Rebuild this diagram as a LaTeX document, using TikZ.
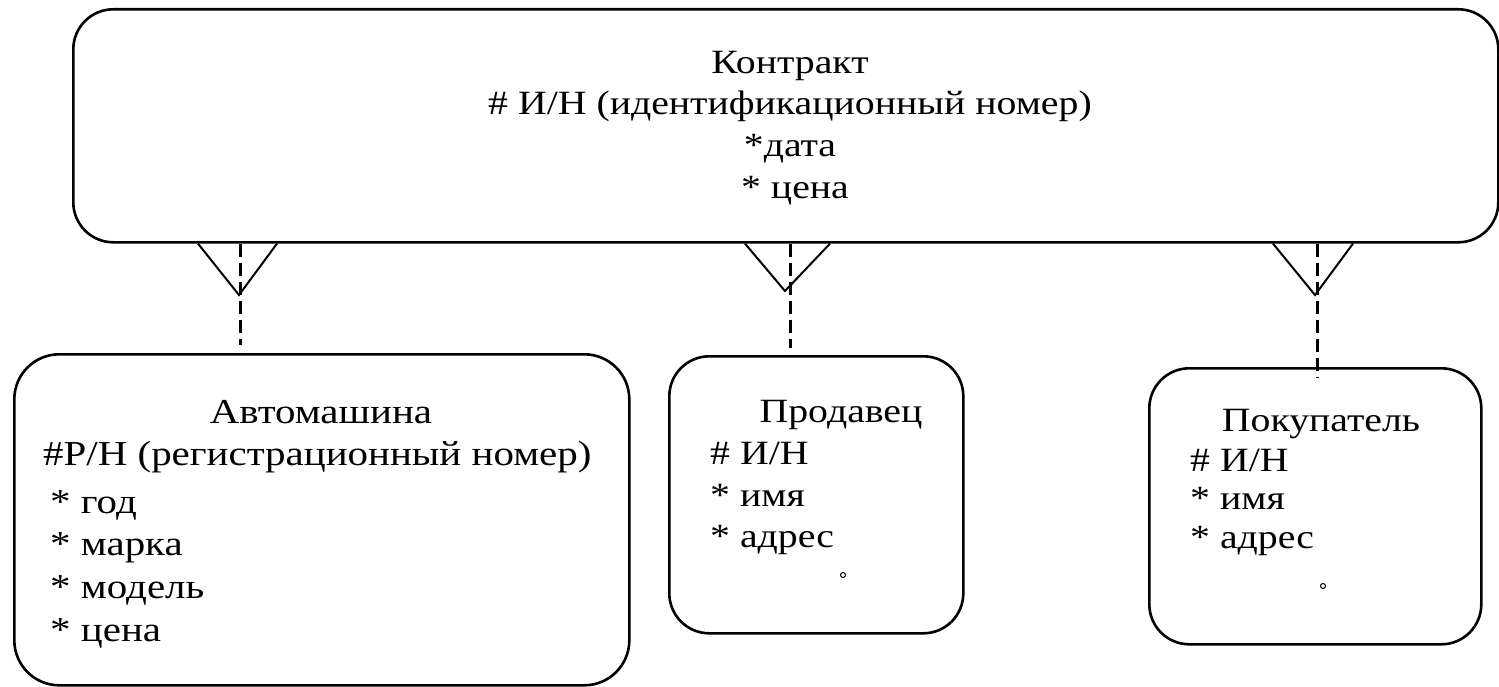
\documentclass[tikz,border=0pt]{standalone}
\usepackage{fontspec}
\setmainfont{Liberation Serif}[FakeStretch=1.17]
\begin{document}
\begin{tikzpicture}[x=1pt,y=-1pt]
\tikzset{
  ent/.style={draw, line width=2.6pt, rounded corners=#1, inner sep=0pt, anchor=north west},
  txt/.style={inner sep=0pt, font=\fontsize{34}{40}\selectfont},
  bigtxt/.style={inner sep=0pt, font=\fontsize{35}{42}\selectfont},
  foot/.style={line width=2pt},
  rel/.style={line width=3pt, dash pattern=on 13pt off 6pt},
  dot/.style={draw, circle, line width=1pt, inner sep=0pt, minimum size=5pt}
}
\useasboundingbox (0,0) rectangle (1499,687);
% entity boxes
\node[ent=40pt, minimum width=1425pt, minimum height=233pt] (contract) at (72,8) {};
\node[ent=45pt, minimum width=615pt, minimum height=331pt] (car) at (13,353) {};
\node[ent=40pt, minimum width=294pt, minimum height=277pt] (seller) at (668,355) {};
\node[ent=40pt, minimum width=332pt, minimum height=276pt] (buyer) at (1148,367) {};
% contract text
\node[txt, anchor=base] (c1) at (790,74) {Контракт};
\node[txt, anchor=base] (c2) at (790,115) {\# И/Н (идентификационный номер)};
\node[txt, anchor=base] (c3) at (790,157) {*дата};
\node[txt, anchor=base] (c4) at (795,199) {* цена};
% car text
\node[bigtxt, anchor=base] (a1) at (321,423) {Автомашина};
\node[bigtxt, anchor=base west] (a2) at (43,465) {\#Р/Н (регистрационный номер)};
\node[bigtxt, anchor=base west] (a3) at (50,513) {* год};
\node[bigtxt, anchor=base west] (a4) at (50,555) {* марка};
\node[bigtxt, anchor=base west] (a5) at (50,598) {* модель};
\node[bigtxt, anchor=base west] (a6) at (50,641) {* цена};
% seller text
\node[txt, anchor=base] (s1) at (841,422) {Продавец};
\node[txt, anchor=base west] (s2) at (710,464) {\# И/Н};
\node[txt, anchor=base west] (s3) at (710,506) {* имя};
\node[txt, anchor=base west] (s4) at (710,547) {* адрес};
\node[dot] (sd) at (843,575) {};
% buyer text
\node[txt, anchor=base] (b1) at (1321,431) {Покупатель};
\node[txt, anchor=base west] (b2) at (1190,471) {\# И/Н};
\node[txt, anchor=base west] (b3) at (1190,509) {* имя};
\node[txt, anchor=base west] (b4) at (1190,548) {* адрес};
\node[dot] (bd) at (1323,586) {};
% crow's feet
\coordinate (f1) at (239,295);
\coordinate (f2) at (785,291);
\coordinate (f3) at (1315,295);
\draw[foot] (contract.south -| 198,0) -- (f1) -- (contract.south -| 277,0);
\draw[foot] (contract.south -| 745,0) -- (f2) -- (contract.south -| 830,0);
\draw[foot] (contract.south -| 1273,0) -- (f3) -- (contract.south -| 1353,0);
% relationship lines
\coordinate (e1) at (240,345);
\coordinate (e2) at (790,348);
\coordinate (e3) at (1317,377);
\draw[rel] (contract.south -| e1) -- (e1);
\draw[rel] (contract.south -| e2) -- (e2);
\draw[rel] (contract.south -| e3) -- (e3);
\end{tikzpicture}
\end{document}
